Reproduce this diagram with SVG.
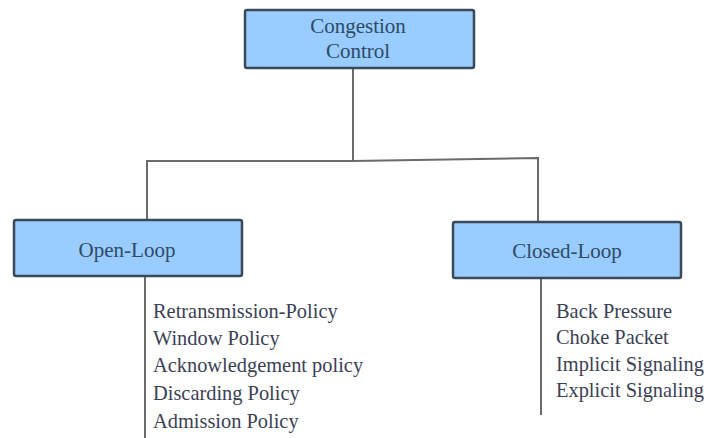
<svg xmlns="http://www.w3.org/2000/svg" width="706" height="438" viewBox="0 0 706 438">
<style>
.box{fill:#99ccff;stroke:#3c4a57;stroke-width:2.5}
.bt{font-family:"Liberation Serif",serif;font-size:21px;fill:#2f4a66;text-anchor:middle}
.lt{font-family:"Liberation Serif",serif;font-size:20.4px;fill:#3b3f55}
.ln{fill:none;stroke:#6b6b6b;stroke-width:2}
</style>
<rect width="706" height="438" fill="#ffffff"/>
<g id="connectors">
<path class="ln" d="M353,68 V160"/>
<path class="ln" d="M147,220 V161 H353 L538,158 V222"/>
<path class="ln" d="M145,276 V438"/>
<path class="ln" d="M541,278 V415"/>
</g>
<g id="congestion-control">
<rect class="box" x="245" y="10" width="229" height="58" rx="2"/>
<text class="bt" x="358" y="33">Congestion</text>
<text class="bt" x="358" y="58">Control</text>
</g>
<g id="open-loop">
<rect class="box" x="14" y="220" width="228" height="56" rx="2"/>
<text class="bt" x="127" y="257">Open-Loop</text>
</g>
<g id="closed-loop">
<rect class="box" x="453" y="222" width="228" height="56" rx="2"/>
<text class="bt" x="567" y="258">Closed-Loop</text>
</g>
<g id="open-loop-list">
<text class="lt" x="153" y="318">Retransmission-Policy</text>
<text class="lt" x="153" y="345">Window Policy</text>
<text class="lt" x="153" y="372">Acknowledgement policy</text>
<text class="lt" x="153" y="400">Discarding Policy</text>
<text class="lt" x="153" y="428">Admission Policy</text>
</g>
<g id="closed-loop-list">
<text class="lt" x="556" y="318">Back Pressure</text>
<text class="lt" x="556" y="344">Choke Packet</text>
<text class="lt" x="556" y="371">Implicit Signaling</text>
<text class="lt" x="556" y="397">Explicit Signaling</text>
</g>
</svg>
